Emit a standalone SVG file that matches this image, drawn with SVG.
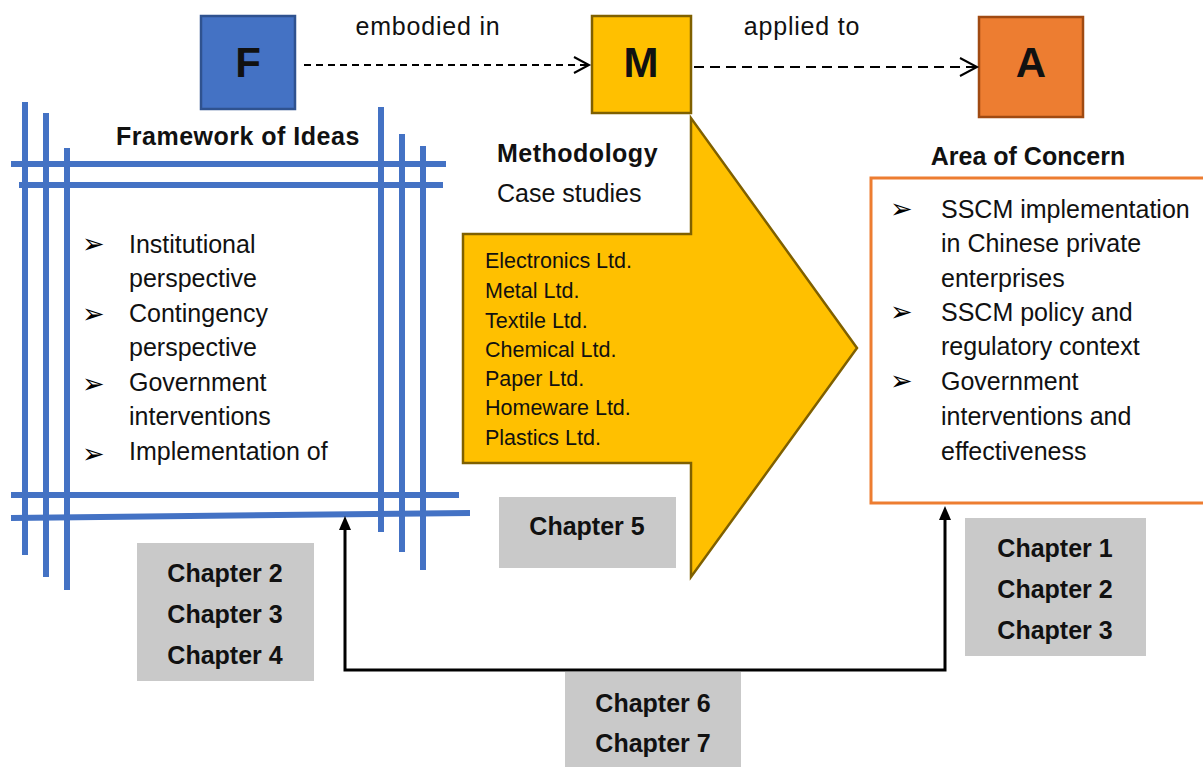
<svg xmlns="http://www.w3.org/2000/svg" width="1203" height="767" viewBox="0 0 1203 767">
<defs>
<style>
.t{font-family:"Liberation Sans",Arial,sans-serif;fill:#111;}
.body{font-size:25px;}
.co{font-size:21.5px;}
.ttl{font-size:25px;font-weight:bold;}
.ch{font-size:25px;font-weight:bold;text-anchor:middle;}
.big{font-size:42px;font-weight:bold;text-anchor:middle;}
.lbl{font-size:25px;text-anchor:middle;letter-spacing:0.8px;}
.bul{font-family:"DejaVu Sans",sans-serif;font-size:27px;fill:#000;}
.blue{stroke:#4472C4;stroke-width:6;fill:none;}
.gray{fill:#C9C9C9;}
.dash{fill:none;stroke:#000;stroke-width:2;}
.conn{fill:none;stroke:#000;stroke-width:3;}
</style>
</defs>
<rect width="1203" height="767" fill="#fff"/>

<g id="framework">
<line class="blue" x1="25" y1="102" x2="25" y2="555"/>
<line class="blue" x1="46" y1="113" x2="46" y2="577"/>
<line class="blue" x1="67" y1="148" x2="67" y2="590"/>
<line class="blue" x1="381" y1="107" x2="381" y2="532"/>
<line class="blue" x1="402" y1="134" x2="402" y2="552"/>
<line class="blue" x1="423" y1="146" x2="423" y2="570"/>
<line class="blue" x1="11" y1="164" x2="446" y2="164"/>
<line class="blue" x1="19" y1="185" x2="443" y2="185"/>
<line class="blue" x1="11" y1="495" x2="459" y2="495"/>
<line class="blue" x1="11" y1="518" x2="470" y2="513"/>
<text class="t ttl" x="116" y="145" letter-spacing="0.5">Framework of Ideas</text>
<text class="bul" x="82" y="253">➢</text>
<text class="bul" x="82" y="323">➢</text>
<text class="bul" x="82" y="393">➢</text>
<text class="bul" x="82" y="463">➢</text>
<text class="t body" x="129" y="253">Institutional</text>
<text class="t body" x="129" y="287">perspective</text>
<text class="t body" x="129" y="322">Contingency</text>
<text class="t body" x="129" y="356">perspective</text>
<text class="t body" x="129" y="391">Government</text>
<text class="t body" x="129" y="425">interventions</text>
<text class="t body" x="129" y="460">Implementation of</text>
</g>

<g id="F">
<rect x="201" y="16" width="94" height="93" fill="#4472C4" stroke="#2F528F" stroke-width="2.5"/>
<text class="t big" x="248" y="77">F</text>
</g>

<g id="M">
<rect x="592" y="16" width="99" height="97" fill="#FFC000" stroke="#7F6000" stroke-width="2.5"/>
<text class="t big" x="641" y="77">M</text>
</g>

<g id="A">
<rect x="979" y="17" width="104" height="100" fill="#ED7D31" stroke="#A04A12" stroke-width="2.5"/>
<text class="t big" x="1031" y="77">A</text>
</g>

<g id="methodology">
<path d="M463,234 L691,234 L691,118 L857,348 L691,577 L691,463 L463,463 Z" fill="#FFC000" stroke="#7F6000" stroke-width="2.5" stroke-linejoin="miter"/>
<text class="t ttl" x="497" y="162" letter-spacing="0.5">Methodology</text>
<text class="t body" x="497" y="202">Case studies</text>
<text class="t co" x="485" y="268">Electronics Ltd.</text>
<text class="t co" x="485" y="298">Metal Ltd.</text>
<text class="t co" x="485" y="328">Textile Ltd.</text>
<text class="t co" x="485" y="357">Chemical Ltd.</text>
<text class="t co" x="485" y="386">Paper Ltd.</text>
<text class="t co" x="485" y="415">Homeware Ltd.</text>
<text class="t co" x="485" y="445">Plastics Ltd.</text>
</g>

<g id="area">
<text class="t ttl" x="1028" y="165" text-anchor="middle">Area of Concern</text>
<rect x="871" y="178" width="340" height="325" fill="#fff" stroke="#ED7D31" stroke-width="3"/>
<text class="bul" x="890" y="218">➢</text>
<text class="bul" x="890" y="321">➢</text>
<text class="bul" x="890" y="390">➢</text>
<text class="t body" x="941" y="218">SSCM implementation</text>
<text class="t body" x="941" y="252">in Chinese private</text>
<text class="t body" x="941" y="287">enterprises</text>
<text class="t body" x="941" y="321">SSCM policy and</text>
<text class="t body" x="941" y="355">regulatory context</text>
<text class="t body" x="941" y="390">Government</text>
<text class="t body" x="941" y="425">interventions and</text>
<text class="t body" x="941" y="460">effectiveness</text>
</g>

<g id="ch234">
<rect class="gray" x="137" y="543" width="177" height="138"/>
<text class="t ch" x="225" y="582">Chapter 2</text>
<text class="t ch" x="225" y="623">Chapter 3</text>
<text class="t ch" x="225" y="664">Chapter 4</text>
</g>

<g id="ch5">
<rect class="gray" x="499" y="497" width="177" height="71"/>
<text class="t ch" x="587" y="535">Chapter 5</text>
</g>

<g id="ch123">
<rect class="gray" x="965" y="518" width="181" height="138"/>
<text class="t ch" x="1055" y="557">Chapter 1</text>
<text class="t ch" x="1055" y="598">Chapter 2</text>
<text class="t ch" x="1055" y="639">Chapter 3</text>
</g>

<g id="connectors">
<line class="dash" x1="304" y1="65" x2="588" y2="65" stroke-dasharray="7,5" stroke-width="1.5"/>
<polyline class="dash" points="574,57 589,65 574,73" stroke-width="1.8"/>
<text class="t lbl" x="428" y="35">embodied in</text>
<line class="dash" x1="694" y1="67" x2="975" y2="67" stroke-dasharray="10,6" stroke-width="2.5"/>
<polyline class="dash" points="960,58 977,67 960,76" stroke-width="2.5"/>
<text class="t lbl" x="802" y="35">applied to</text>
<path class="conn" d="M345,527 L345,670 L945,670 L945,517"/>
<path d="M345,516 L339,530 L351,530 Z" fill="#000"/>
<path d="M945,506 L939,520 L951,520 Z" fill="#000"/>
</g>

<g id="ch67">
<rect class="gray" x="565" y="672" width="176" height="95"/>
<text class="t ch" x="653" y="712">Chapter 6</text>
<text class="t ch" x="653" y="752">Chapter 7</text>
</g>
</svg>
